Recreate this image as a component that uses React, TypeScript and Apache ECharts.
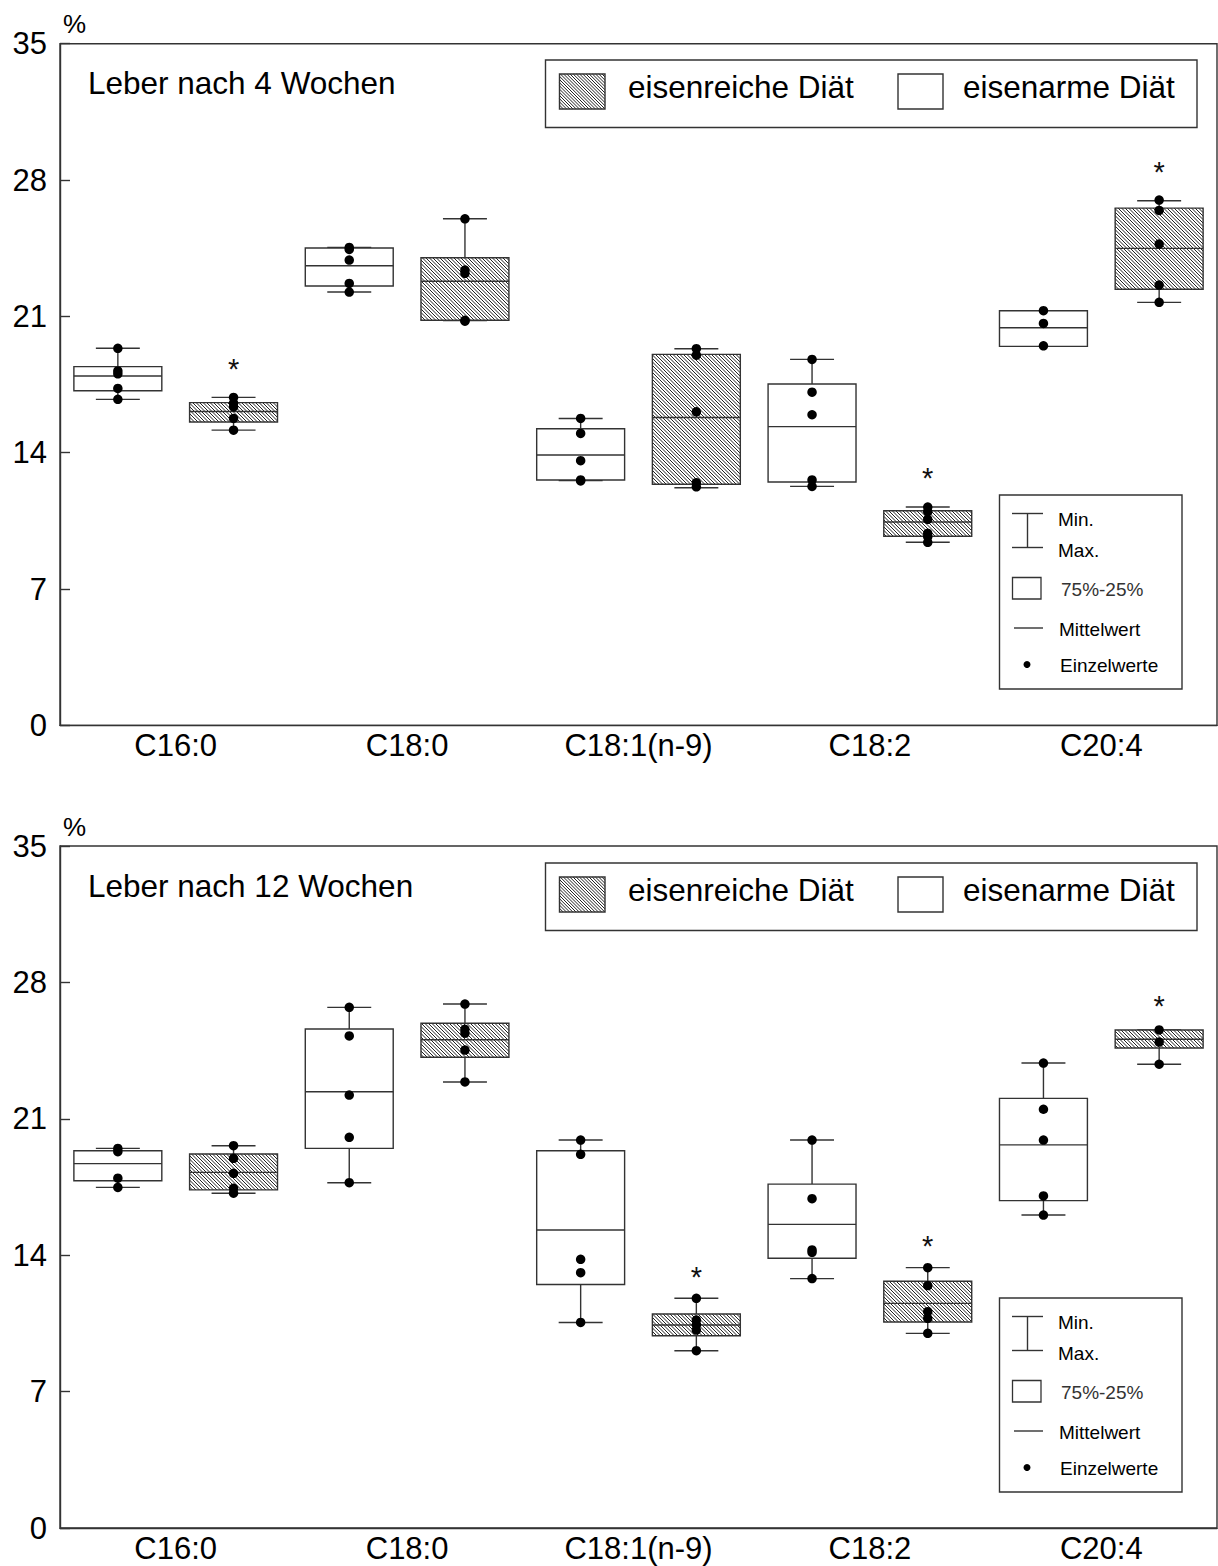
import React, { useEffect, useRef } from "react";
import * as echarts from "echarts";

// ---------- DATA ----------
const acids = ["C16:0", "C18:0", "C18:1(n-9)", "C18:2", "C20:4"];
const slots = [
  "C16:0 eisenarm", "C16:0 eisenreich",
  "C18:0 eisenarm", "C18:0 eisenreich",
  "C18:1 eisenarm", "C18:1 eisenreich",
  "C18:2 eisenarm", "C18:2 eisenreich",
  "C20:4 eisenarm", "C20:4 eisenreich",
];
const yTicks = [0, 7, 14, 21, 28, 35];

// stats per fatty acid: [min, q25, median, q75, max]
const w4Arm = [
  [16.74, 17.18, 17.94, 18.42, 19.36],
  [22.25, 22.56, 23.6, 24.51, 24.54],
  [12.57, 12.6, 13.88, 15.23, 15.76],
  [12.27, 12.5, 15.34, 17.53, 18.79],
  [19.46, 19.46, 20.42, 21.29, 21.29],
];
const w4Reich = [
  [15.16, 15.58, 16.12, 16.57, 16.84],
  [20.78, 20.8, 22.8, 24.01, 26.01],
  [12.2, 12.38, 15.81, 19.05, 19.34],
  [9.4, 9.71, 10.44, 11.02, 11.21],
  [21.72, 22.39, 24.49, 26.56, 26.94],
];
const w4ArmPts = [
  [19.36, 18.2, 18.05, 17.3, 16.74],
  [24.54, 24.44, 23.89, 22.69, 22.25],
  [15.76, 14.99, 13.59, 12.6, 12.55],
  [18.79, 17.11, 15.95, 12.6, 12.27],
  [21.29, 20.64, 19.49],
];
const w4ReichPts = [
  [16.84, 16.55, 16.35, 15.76, 15.16],
  [26.01, 23.38, 23.21, 20.8, 20.75],
  [19.34, 19.01, 16.1, 12.46, 12.25],
  [11.21, 10.97, 10.58, 9.86, 9.69, 9.4],
  [26.97, 26.44, 24.71, 22.61, 21.72],
];
// significance markers: [slot index, y value]
const w4Stars = [[1, 18.4], [7, 12.8], [9, 28.5]];

const w12Arm = [
  [17.48, 17.82, 18.7, 19.36, 19.48],
  [17.72, 19.48, 22.39, 25.61, 26.72],
  [10.55, 12.5, 15.29, 19.36, 19.91],
  [12.8, 13.84, 15.58, 17.65, 19.91],
  [16.06, 16.8, 19.66, 22.05, 23.86],
];
const w12Reich = [
  [17.18, 17.35, 18.25, 19.19, 19.62],
  [22.89, 24.16, 25.06, 25.9, 26.89],
  [9.1, 9.87, 10.42, 10.98, 11.79],
  [9.99, 10.57, 11.53, 12.66, 13.36],
  [23.8, 24.63, 25.08, 25.56, 25.56],
];
const w12ArmPts = [
  [19.48, 19.31, 17.95, 17.48],
  [26.72, 25.25, 22.22, 20.05, 17.72],
  [19.91, 19.18, 13.79, 13.1, 10.55],
  [19.91, 16.9, 14.27, 14.15, 12.8],
  [23.86, 21.49, 19.91, 17.04, 16.06],
];
const w12ReichPts = [
  [19.62, 18.97, 18.2, 17.43, 17.18],
  [26.89, 25.59, 25.39, 24.53, 22.89],
  [11.79, 10.67, 10.42, 10.16, 9.1],
  [13.36, 12.44, 11.1, 10.76, 9.99],
  [25.56, 24.94, 23.8],
];
const w12Stars = [[5, 13.0], [7, 14.6], [9, 26.9]];

const titles = ["Leber nach 4 Wochen", "Leber nach 12 Wochen"];
const legendDiet = ["eisenreiche Diät", "eisenarme Diät"];
const legendBox = ["Min.", "Max.", "75%-25%", "Mittelwert", "Einzelwerte"];

// ---------- HELPERS ----------
const LINE = "#333";
const FONT = '"Liberation Sans", Arial, sans-serif';

function hatchSegments(x0: number, y0: number, x1: number, y1: number, s: number) {
  const segs: number[][] = [];
  const cStart = Math.ceil((y0 - x1) / s) * s;
  for (let c = cStart; c <= y1 - x0; c += s) {
    const xa = Math.max(x0, y0 - c);
    const xb = Math.min(x1, y1 - c);
    if (xb > xa) segs.push([xa, xa + c, xb, xb + c]);
  }
  return segs;
}

function boxData(arm: number[][], reich: number[][]) {
  const out: number[][] = [];
  for (let i = 0; i < arm.length; i++) {
    out.push([2 * i, ...arm[i], 0]);
    out.push([2 * i + 1, ...reich[i], 1]);
  }
  return out;
}
function pointData(arm: number[][], reich: number[][]) {
  const out: number[][] = [];
  arm.forEach((vals, i) => vals.forEach((v) => out.push([2 * i, v])));
  reich.forEach((vals, i) => vals.forEach((v) => out.push([2 * i + 1, v])));
  return out;
}

function renderBox(params: any, api: any) {
  const xi = api.value(0);
  const mn = api.value(1), q1 = api.value(2), md = api.value(3), q3 = api.value(4), mx = api.value(5);
  const hatched = api.value(6) === 1;
  const band = api.size([1, 0])[0] || 115.7;
  const half = band * 0.38;
  const capHalf = band * 0.19;
  const cx = api.coord([xi, mn])[0];
  const yMin = api.coord([xi, mn])[1];
  const yQ1 = api.coord([xi, q1])[1];
  const yMd = api.coord([xi, md])[1];
  const yQ3 = api.coord([xi, q3])[1];
  const yMax = api.coord([xi, mx])[1];
  const st = { stroke: LINE, lineWidth: 1.4 };
  const children: any[] = [
    { type: "line", shape: { x1: cx, y1: yMax, x2: cx, y2: yMin }, style: st },
    { type: "line", shape: { x1: cx - capHalf, y1: yMax, x2: cx + capHalf, y2: yMax }, style: st },
    { type: "line", shape: { x1: cx - capHalf, y1: yMin, x2: cx + capHalf, y2: yMin }, style: st },
    { type: "rect", shape: { x: cx - half, y: yQ3, width: 2 * half, height: yQ1 - yQ3 }, style: { fill: "#fff", stroke: "none" } },
  ];
  if (hatched) {
    hatchSegments(cx - half, yQ3, cx + half, yQ1, 3.5).forEach((s) =>
      children.push({ type: "line", shape: { x1: s[0], y1: s[1], x2: s[2], y2: s[3] }, style: { stroke: "#222", lineWidth: 1 } })
    );
  }
  children.push({ type: "rect", shape: { x: cx - half, y: yQ3, width: 2 * half, height: yQ1 - yQ3 }, style: { fill: "none", stroke: LINE, lineWidth: 1.4 } });
  children.push({ type: "line", shape: { x1: cx - half, y1: yMd, x2: cx + half, y2: yMd }, style: st });
  return { type: "group", children };
}

function renderStar(params: any, api: any) {
  const p = api.coord([api.value(0), api.value(1)]);
  return {
    type: "text",
    style: { text: "*", x: p[0], y: p[1] + 2, textAlign: "center", textVerticalAlign: "middle", font: `29px ${FONT}`, fill: "#111" },
  };
}

function legendGraphics(dy: number) {
  const els: any[] = [];
  const t = (text: string, x: number, y: number, size: number, fill = "#000") => ({
    type: "text", z: 10,
    style: { text, x, y: y + dy, font: `${size}px ${FONT}`, fill, textVerticalAlign: "middle" },
  });
  const ln = (x1: number, y1: number, x2: number, y2: number, w = 1.4, c = LINE) => ({
    type: "line", z: 10, shape: { x1, y1: y1 + dy, x2, y2: y2 + dy }, style: { stroke: c, lineWidth: w },
  });
  // title
  els.push(t(titles[dy === 0 ? 0 : 1], 88, 83, 31.5));
  els.push(t("%", 63, 24, 26));
  // diet legend
  els.push({ type: "rect", z: 9, shape: { x: 545.5, y: 60 + dy, width: 651.5, height: 67.5 }, style: { fill: "#fff", stroke: LINE, lineWidth: 1.4 } });
  els.push({ type: "rect", z: 10, shape: { x: 559.5, y: 74 + dy, width: 45.5, height: 35 }, style: { fill: "#fff", stroke: "none" } });
  hatchSegments(559.5, 74 + dy, 605, 109 + dy, 3.2).forEach((s) =>
    els.push({ type: "line", z: 10, shape: { x1: s[0], y1: s[1], x2: s[2], y2: s[3] }, style: { stroke: "#222", lineWidth: 1 } })
  );
  els.push({ type: "rect", z: 11, shape: { x: 559.5, y: 74 + dy, width: 45.5, height: 35 }, style: { fill: "none", stroke: LINE, lineWidth: 1.4 } });
  els.push(t(legendDiet[0], 628, 87, 31.5));
  els.push({ type: "rect", z: 10, shape: { x: 898, y: 74 + dy, width: 45, height: 35 }, style: { fill: "#fff", stroke: LINE, lineWidth: 1.4 } });
  els.push(t(legendDiet[1], 963, 87, 31.5));
  // box legend
  els.push({ type: "rect", z: 9, shape: { x: 999.5, y: 495 + dy, width: 182.5, height: 194 }, style: { fill: "#fff", stroke: LINE, lineWidth: 1.4 } });
  els.push(ln(1012, 513.5, 1043, 513.5));
  els.push(ln(1027.5, 513.5, 1027.5, 547.5));
  els.push(ln(1012, 547.5, 1043, 547.5));
  els.push(t(legendBox[0], 1058, 519, 19));
  els.push(t(legendBox[1], 1058, 550, 19));
  els.push({ type: "rect", z: 10, shape: { x: 1012.5, y: 577.5 + dy, width: 28.5, height: 21.5 }, style: { fill: "#fff", stroke: LINE, lineWidth: 1.3 } });
  els.push(t(legendBox[2], 1061, 589, 19, "#333"));
  els.push(ln(1014, 628, 1043, 628));
  els.push(t(legendBox[3], 1059, 629, 19));
  els.push({ type: "circle", z: 10, shape: { cx: 1027, cy: 664.5 + dy, r: 3.5 }, style: { fill: "#000" } });
  els.push(t(legendBox[4], 1060, 665, 19));
  return els;
}

const App: React.FC = () => {
  const ref = useRef<HTMLDivElement>(null);
  useEffect(() => {
    if (!ref.current) return;
    const chart = echarts.init(ref.current, undefined, { renderer: "svg" });
    const grids = [
      { left: 60, top: 43.7, width: 1157, height: 681.7 },
      { left: 60, top: 846, width: 1157, height: 682 },
    ];
    const sets = [
      { arm: w4Arm, reich: w4Reich, armPts: w4ArmPts, reichPts: w4ReichPts, stars: w4Stars },
      { arm: w12Arm, reich: w12Reich, armPts: w12ArmPts, reichPts: w12ReichPts, stars: w12Stars },
    ];
    const xAxis: any[] = [];
    const yAxis: any[] = [];
    const series: any[] = [];
    grids.forEach((g, gi) => {
      xAxis.push({
        type: "category", gridIndex: gi, data: slots, position: "bottom", boundaryGap: true,
        axisLine: { lineStyle: { color: LINE, width: 1.4 } },
        axisTick: { inside: true, alignWithLabel: true, length: 8, lineStyle: { color: LINE, width: 1.4 } },
        axisLabel: { show: false }, splitLine: { show: false },
      });
      xAxis.push({
        type: "category", gridIndex: gi, data: acids, position: "bottom", boundaryGap: true,
        axisLine: { show: false }, axisTick: { show: false }, splitLine: { show: false },
        axisLabel: { show: true, interval: 0, margin: 5, color: "#000", fontSize: 31, fontFamily: FONT },
      });
      yAxis.push({
        type: "value", gridIndex: gi, min: 0, max: 35, interval: 7,
        axisLine: { show: true, lineStyle: { color: LINE, width: 1.4 } },
        axisTick: { show: true, inside: true, length: 10, lineStyle: { color: LINE, width: 1.4 } },
        axisLabel: { color: "#000", fontSize: 31, fontFamily: FONT, margin: 13, customValues: yTicks },
        splitLine: { show: false },
      });
      const s = sets[gi];
      series.push({
        type: "custom", xAxisIndex: gi * 2, yAxisIndex: gi, renderItem: renderBox,
        data: boxData(s.arm, s.reich), encode: { x: 0, y: [1, 2, 3, 4, 5] }, z: 2, clip: false,
      });
      series.push({
        type: "scatter", xAxisIndex: gi * 2, yAxisIndex: gi, data: pointData(s.armPts, s.reichPts),
        symbol: "circle", symbolSize: 9.5, itemStyle: { color: "#000", opacity: 1 }, z: 3,
      });
      series.push({
        type: "custom", xAxisIndex: gi * 2, yAxisIndex: gi, renderItem: renderStar,
        data: s.stars, encode: { x: 0, y: 1 }, z: 4, clip: false,
      });
    });
    chart.setOption({
      animation: false,
      backgroundColor: "#fff",
      grid: grids.map((g) => ({ ...g, show: true, borderColor: LINE, borderWidth: 1.4, backgroundColor: "transparent" })),
      xAxis, yAxis, series,
      graphic: { elements: [...legendGraphics(0), ...legendGraphics(803)] },
    });
    return () => chart.dispose();
  }, []);
  return <div ref={ref} style={{ position: "absolute", left: 0, top: 0, width: 1218, height: 1566 }} />;
};

export default App;
